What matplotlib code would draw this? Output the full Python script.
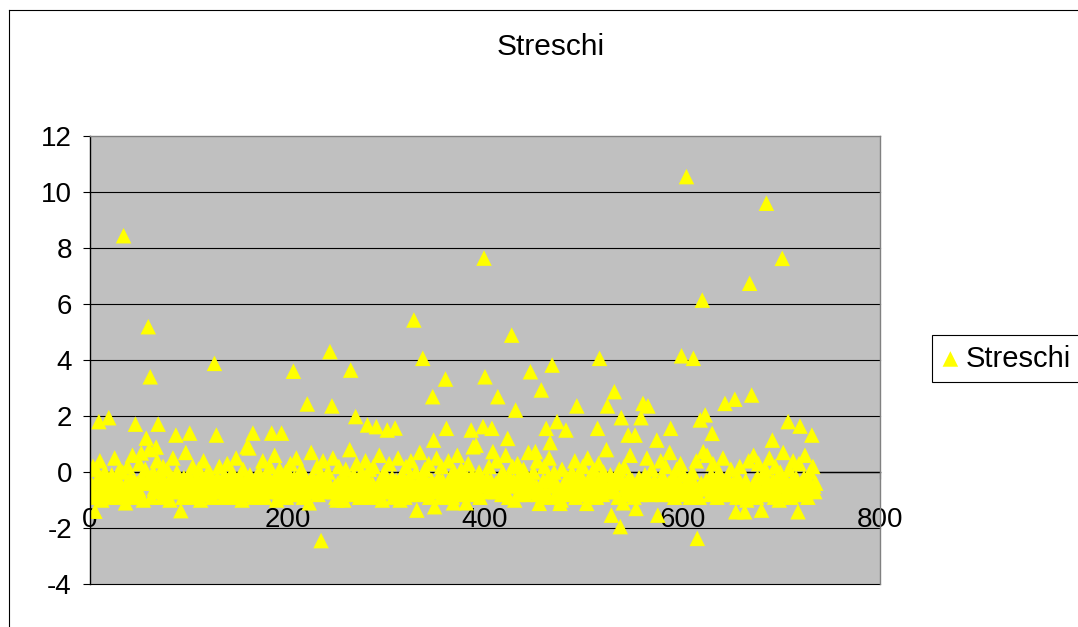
import numpy as np
import matplotlib
matplotlib.use('Agg')
import matplotlib.pyplot as plt
from matplotlib.lines import Line2D

plt.rcParams['font.family'] = ['Liberation Sans', 'DejaVu Sans']
plt.rcParams['axes.unicode_minus'] = False

# --- dati: fascia principale (indice 1..735), a blocchi di 105 ---
seg1 = [-0.4, -0.7, 0.2, -0.9, -0.5, 0.1, -0.3, -0.8, -0.6, 0.4, -0.2, -1.0, -0.5, -0.7, 0.0,
        -0.6, -0.3, -0.9, 0.3, -0.4, -0.8, -0.1, -0.6, -0.5, 0.5, -0.7, -0.2, -0.9, -0.4, 0.1,
        -0.8, -0.5, 0.0, -0.3, -0.7, -1.1, -0.4, 0.2, -0.6, -0.8, -0.2, -0.5, 0.6, -0.9, -0.3,
        -0.1, -0.7, -0.4, -0.6, 0.3, -0.8, -0.5, -0.2, -1.0, -0.4, 0.1, -0.6, -0.3, -0.7, 0.8,
        -0.5, -0.9, -0.2, 0.0, -0.6, -0.4, -0.8, 0.4, -0.3, -0.7, -0.5, -0.1, -0.9, 0.2, -0.6,
        -0.4, -0.8, 0.1, -0.5, -0.3, -1.0, -0.7, -0.2, 0.5, -0.6, -0.4, -0.8, 0.0, -0.5, -0.3,
        -0.7, 0.3, -0.6, -0.9, -0.2, -0.4, 0.7, -0.8, -0.5, -0.1, -0.6, -0.3, -0.9, 0.2, -0.7]
seg2 = [-0.4, -0.6, -0.2, -0.8, 0.1, -0.5, -1.0, -0.3, -0.7, 0.4, -0.4, -0.6, -0.1, -0.8, -0.5,
        0.0, -0.7, -0.3, -0.9, -0.5, 0.6, -0.4, -0.8, -0.2, -0.6, 0.2, -0.7, -0.5, -0.3, -0.9,
        -0.1, -0.6, -0.4, 0.3, -0.8, -0.5, -0.2, -0.7, 0.0, -0.9, -0.4, -0.6, 0.5, -0.3, -0.8,
        -0.5, -0.2, -0.7, -1.0, 0.1, -0.4, -0.6, -0.3, 0.9, -0.8, -0.5, -0.1, -0.7, -0.4, 0.3,
        -0.9, -0.6, -0.2, -0.5, -0.8, 0.0, -0.3, -0.7, -0.4, 0.4, -0.6, -0.9, -0.2, -0.5, -0.1,
        -0.7, 0.2, -0.4, -0.8, -0.6, -0.3, 0.6, -0.5, -1.0, -0.2, -0.7, 0.1, -0.4, -0.6, -0.8,
        -0.3, -0.5, 0.0, -0.9, -0.4, -0.7, -0.1, 0.3, -0.6, -0.8, -0.5, -0.2, -0.7, 0.5, -0.4]
seg3 = [-0.6, -0.8, -0.3, 0.1, -0.5, -0.9, -0.4, -0.2, -0.7, 0.0, -0.6, -1.1, -0.3, 0.7, -0.5,
        -0.2, -0.7, -0.5, -0.4, 0.2, -0.8, -0.6, -0.1, -0.9, -0.3, 0.4, -0.5, -0.7, -0.2, -0.6,
        0.0, -0.4, -0.8, -0.6, -0.3, 0.5, -0.7, -0.5, -0.9, -0.1, -0.4, 0.2, -0.8, -0.6, -0.3,
        -0.5, -1.0, -0.2, 0.1, -0.7, -0.4, -0.6, 0.8, -0.3, -0.8, -0.5, -0.1, -0.7, -0.4, 0.3,
        -0.6, -0.3, -0.9, -0.5, 0.0, -0.7, -0.2, -0.4, 0.4, -0.8, -0.6, -0.3, 0.1, -0.9, -0.5,
        -0.4, 0.2, -0.7, -0.6, -0.1, -0.8, -0.5, 0.6, -0.3, -0.7, -1.0, -0.4, 0.0, -0.6, -0.2,
        -0.8, -0.5, 0.3, -0.4, -0.7, -0.2, -0.9, -0.6, 0.1, -0.3, -0.5, 0.5, -0.8, -0.4, -0.6]
seg4 = [-0.1, -0.7, -0.3, -0.9, 0.2, -0.5, -0.6, -0.2, -0.8, 0.4, -0.4, -0.7, -0.1, -0.5, 0.0,
        -0.6, -0.4, -0.8, 0.7, -0.3, -0.5, -1.0, -0.2, 0.1, -0.7, -0.6, -0.4, 0.3, -0.9, -0.5,
        -0.3, 0.0, -0.6, -0.8, -0.4, 0.5, -0.7, -0.2, -0.5, -0.9, 0.2, -0.3, -0.6, -0.8, -0.1,
        -0.5, -0.7, 0.4, -0.3, -0.6, -0.1, -0.9, -0.4, 0.0, -0.8, -0.5, 0.6, -0.2, -0.7, -0.4,
        0.1, -0.6, -0.8, -0.3, -0.5, -1.1, -0.2, 0.3, -0.7, -0.4, -0.6, -0.1, 0.9, -0.5, -0.8,
        -0.4, -0.2, -0.7, 0.0, -0.9, -0.5, -0.3, -0.6, 0.5, -0.8, -0.4, -0.2, -0.7, 0.2, -0.6,
        -0.3, -0.8, 0.1, -0.5, -0.7, -0.4, 0.4, -0.9, -0.6, -0.2, -0.5, -0.8, 0.0, -0.3, -0.7]
seg5 = [0.6, -0.4, -0.6, -0.9, -0.2, -0.5, -0.7, 0.2, -0.3, -1.0, -0.6, -0.4, 0.3, -0.8, -0.1,
        -0.5, -0.7, -0.3, 0.1, -0.6, -0.8, -0.2, -0.4, 0.7, -0.5, -0.9, -0.3, -0.6, 0.0, -0.7,
        -0.2, -0.5, 0.4, -0.8, -0.4, -0.6, -0.1, -0.9, -0.3, 0.2, -0.7, -0.5, -0.8, -0.2, 0.5,
        -0.6, -0.3, -0.7, -0.5, 0.0, -0.9, -0.4, 0.3, -0.6, -0.8, -0.2, -1.0, 0.1, -0.5, -0.7,
        -0.4, 0.6, -0.2, -0.6, -0.8, -0.3, -0.5, 0.0, -0.7, -0.4, 0.4, -0.9, -0.6, -0.1, -0.3,
        -0.8, -0.5, -0.2, 0.2, -0.7, -0.4, -0.6, -1.0, 0.5, -0.3, -0.5, -0.8, -0.1, -0.6, 0.1,
        -0.3, -0.7, -0.9, -0.4, 0.3, -0.6, -0.2, -0.5, -0.8, 0.0, -0.4, -0.7, 0.8, -0.3, -0.6]
seg6 = [-0.5, -0.1, -0.8, -0.6, -0.3, 0.4, -0.7, -0.4, -0.2, -0.9, 0.1, -0.5, -0.6, -0.3, -1.1,
        0.2, -0.6, -0.4, -0.7, -0.5, -0.2, 0.6, -0.8, -0.3, -0.6, -0.9, 0.0, -0.4, -0.7, -0.5,
        -0.2, -0.8, 0.3, -0.5, -0.4, -0.7, -0.1, -0.6, 0.5, -0.9, -0.3, -0.5, -0.8, 0.1, -0.4,
        -0.7, -0.3, -0.6, 0.0, -1.0, -0.4, -0.5, 0.4, -0.2, -0.8, -0.6, -0.3, 0.2, -0.7, -0.5,
        -0.4, 0.7, -0.6, -0.8, -0.2, -0.5, -0.9, -0.3, 0.1, -0.7, -0.4, -0.6, 0.3, -0.5, -0.8,
        -0.1, -0.5, -0.7, 0.5, -0.4, -0.6, -0.3, -0.9, -0.2, 0.0, -0.8, -0.5, -0.7, 0.4, -0.3,
        -0.6, -0.9, -0.2, -0.4, 0.2, -0.7, -0.5, -1.1, -0.3, 0.6, -0.6, -0.4, -0.8, -0.1, -0.5]
seg7 = [0.3, -0.7, -0.4, -0.6, -0.9, -0.2, 0.0, -0.5, -0.8, -0.3, 0.5, -0.6, -0.4, -0.7, -0.2,
        -0.5, -0.3, -0.8, 0.1, -0.6, -0.4, -0.7, 0.8, -0.5, -0.9, -0.2, -0.6, 0.2, -0.4, -0.8,
        -0.7, -0.5, 0.0, -0.3, -1.0, -0.6, 0.4, -0.4, -0.8, -0.2, -0.5, 0.6, -0.7, -0.3, -0.9,
        -0.2, 0.3, -0.6, -0.8, -0.4, -0.1, -0.7, -0.5, 0.1, -0.9, -0.3, -0.6, 0.5, -0.8, -0.4,
        -0.6, -0.3, -0.9, 0.2, -0.5, -0.7, -0.2, -1.0, 0.0, -0.4, -0.6, 0.7, -0.5, -0.8, -0.3,
        -0.4, -0.7, 0.1, -0.6, -0.9, -0.3, 0.4, -0.5, -0.8, -0.2, -0.7, -1.1, 0.3, -0.6, -0.4,
        -0.8, -0.5, -0.2, 0.6, -0.7, -0.4, -0.9, -0.3, 0.0, -0.6, -0.8, 0.2, -0.5, -0.7, -0.4]

# --- punti fuori dalla fascia (indice, valore) ---
peak_x = [5, 9, 19, 34, 46, 52, 57, 59, 61, 67, 69, 87, 92, 101, 126, 128,
          161, 165, 184, 194, 206, 220, 234, 243, 245, 250, 264, 269, 281, 290,
          301, 309, 314, 328, 331, 337, 347, 348, 349, 360, 361, 368, 386, 391,
          398, 399, 400, 407, 408, 413, 423, 427, 431, 446, 451, 455, 457, 462,
          466, 468, 473, 476, 482, 493, 503, 514, 516, 524, 528, 531, 537, 538,
          545, 552, 553, 558, 560, 565, 574, 575, 588, 599, 604, 611, 615, 618,
          620, 621, 623, 630, 643, 653, 654, 663, 668, 670, 680, 685, 691, 701,
          707, 717, 719, 731]
peak_y = [-1.40, 1.80, 1.94, 8.44, 1.71, 0.68, 1.21, 5.19, 3.40, 0.89, 1.71, 1.32, -1.38, 1.39, 3.88, 1.32,
          0.86, 1.39, 1.39, 1.39, 3.60, 2.43, -2.45, 4.30, 2.36, -1.00, 3.64, 1.98, 1.68, 1.62,
          1.50, 1.57, -1.00, 5.43, -1.36, 4.06, 2.69, 1.14, -1.24, 3.32, 1.56, -1.10, 1.50, 0.96,
          1.62, 7.64, 3.40, 1.56, 0.73, 2.69, 1.20, 4.89, 2.21, 3.58, 0.73, -1.12, 2.93, 1.56,
          1.05, 3.82, 1.80, -1.12, 1.50, 2.36, -1.12, 1.56, 4.06, 2.36, -1.54, 2.87, -1.95, 1.94,
          1.32, 1.32, -1.30, 1.94, 2.45, 2.36, 1.14, -1.54, 1.56, 4.15, 10.55, 4.06, -2.37, 1.86,
          6.14, 0.73, 2.04, 1.38, 2.45, 2.60, -1.42, -1.42, 6.74, 2.75, -1.36, 9.60, 1.14, 7.63,
          1.80, -1.42, 1.64, 1.32]

base_y = np.array(seg1 + seg2 + seg3 + seg4 + seg5 + seg6 + seg7)
x = np.arange(1, len(base_y) + 1)
y = base_y.copy()
y[np.array(peak_x) - 1] = peak_y

W, H = 1078, 627
fig = plt.figure(figsize=(W / 100, H / 100), dpi=100)
fig.patch.set_facecolor('white')

# cornice esterna del grafico (stile Excel)
fig.add_artist(Line2D([9 / W, 9 / W], [-0.1, 1 - 10 / H], color='black', lw=0.8))
fig.add_artist(Line2D([9 / W, 1.1], [1 - 10 / H, 1 - 10 / H], color='black', lw=0.8))

ax = fig.add_axes([90 / W, 43 / H, 790 / W, 448 / H])
ax.set_facecolor('#C0C0C0')
ax.set_xlim(0, 800)
ax.set_ylim(-4, 12)
yt = np.arange(-4, 13, 2)
ax.set_yticks(yt)
ax.set_xticks(np.arange(0, 801, 200))

for v in yt[:-1]:
    ax.axhline(v, color='black', lw=0.8, zorder=0.5, clip_on=False)

sc = ax.scatter(x, y, marker='^', s=125, color='#FFFF00', edgecolors='none',
                zorder=2, label='Streschi')

ax.spines['bottom'].set_position(('data', 0))
ax.spines['bottom'].set_color('black')
ax.spines['bottom'].set_zorder(1)
ax.spines['left'].set_color('black')
ax.spines['top'].set_color('#808080')
ax.spines['right'].set_color('#808080')
for s in ax.spines.values():
    s.set_linewidth(1.0)

ax.tick_params(axis='y', direction='out', length=5, width=0.8, pad=8,
               labelsize=20, colors='black')
ax.tick_params(axis='x', direction='out', length=5, width=0.8, pad=20,
               labelsize=20, colors='black')

fig.text(551 / W, 1 - 47 / H, 'Streschi', ha='center', va='center', fontsize=21.5)

leg = fig.legend(handles=[sc], labels=['Streschi'], loc='upper left',
                 bbox_to_anchor=(932 / W, 1 - 335 / H), fontsize=21,
                 frameon=True, fancybox=False, framealpha=1, edgecolor='black',
                 borderaxespad=0, borderpad=0.33, handletextpad=0.22,
                 handlelength=0.6, scatterpoints=1, markerscale=1.0)
leg.get_frame().set_linewidth(0.8)

fig.savefig('out.png', dpi=100)
